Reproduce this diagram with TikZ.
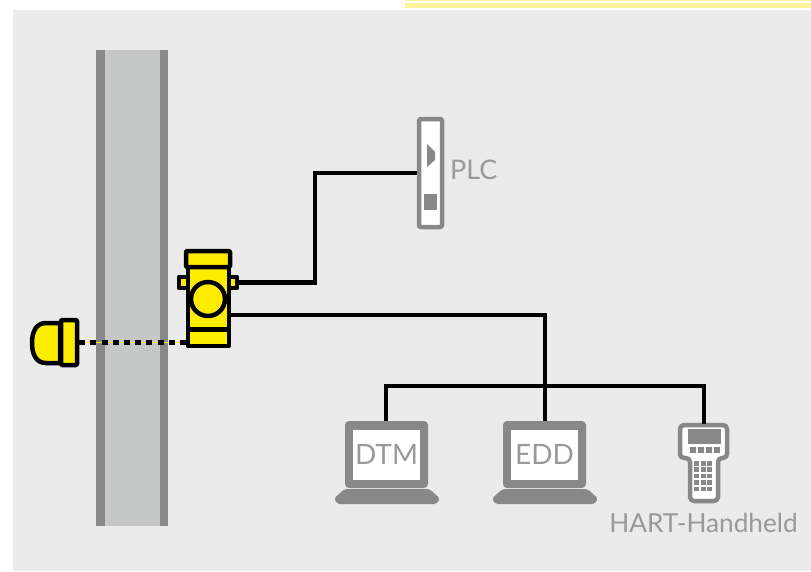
\documentclass[tikz,border=0pt]{standalone}
\usepackage{fontspec}
\setmainfont{Lato}
\definecolor{panelgray}{HTML}{EBEBEB}
\definecolor{pipegray}{HTML}{C6C7C7}
\definecolor{darkgray}{HTML}{888888}
\definecolor{labelgray}{HTML}{999999}
\definecolor{signal}{HTML}{FFED00}
\definecolor{paleyellow}{HTML}{FFF59D}
\tikzset{
  wire/.style={draw=black,line width=4.5pt},
  yellowpart/.style={draw=black,line width=4.5pt,fill=signal,line join=round,inner sep=0pt},
  devicepart/.style={draw=darkgray,line width=4.5pt,fill=white,line join=round,rounded corners=2pt},
  graypart/.style={fill=darkgray,draw=none},
  devicelabel/.style={text=labelgray,inner sep=0pt,font=\fontsize{27}{27}\selectfont}
}
\begin{document}
\begin{tikzpicture}[x=1pt,y=-1pt]
  \useasboundingbox (0,0) rectangle (811,571);
  \fill[paleyellow] (405,0) rectangle (811,1.2);
  \fill[paleyellow] (405,3) rectangle (811,8);
  \fill[panelgray] (13,10) rectangle (811,571);
  % pipe
  \fill[pipegray] (96,50) rectangle (168,526);
  \fill[darkgray] (96,50) rectangle (105,526);
  \fill[darkgray] (160,50) rectangle (168,526);
  % sensor
  \draw[yellowpart] (60,323) -- (46,323) .. controls (36,323) and (32,332) .. (32,343) .. controls (32,354) and (36,363) .. (46,363) -- (60,363) -- cycle;
  \node[yellowpart,rounded corners=1pt,minimum width=16pt,minimum height=45pt] (sensor) at (69,342.5) {};
  % transmitter
  \node[yellowpart,minimum width=9pt,minimum height=11pt] (lugl) at (183.5,282.5) {};
  \node[yellowpart,minimum width=8pt,minimum height=11pt] (lugr) at (233,282.5) {};
  \node[yellowpart,minimum width=41pt,minimum height=80pt] (xmtr) at (208.5,306) {};
  \node[yellowpart,rounded corners=1pt,minimum width=44pt,minimum height=16pt] (cap) at (208,259) {};
  \node[yellowpart,circle,minimum size=34pt] (gauge) at (208,299) {};
  \coordinate (collarl) at (188,329.5); \coordinate (collarr) at (229,329.5);
  \draw[wire] (collarl) -- (collarr);
  % PLC
  \node[devicepart,minimum width=23pt,minimum height=108pt,inner sep=0pt] (plc) at (430.5,173) {};
  \fill[graypart] (427,144) -- (435,152) -- (435,160) -- (427,167) -- cycle;
  \fill[graypart] (424,194) rectangle (436.5,210);
  \node[devicelabel,anchor=west] (plctext) at (450,170) {PLC};
  % laptops
  \foreach \name/\lx/\txt in {dtm/386.5/DTM,edd/544.5/EDD}{
    \fill[graypart,rounded corners=4pt] (\lx-41.5,421) rectangle (\lx+41.5,488);
    \node[fill=white,inner sep=0pt,minimum width=67pt,minimum height=50pt,text=labelgray,font=\fontsize{28}{28}\selectfont] (\name) at (\lx,454.5) {\txt};
    \fill[graypart,rounded corners=2pt] (\lx-42,489) -- (\lx+43,489) -- (\lx+53.5,498.5) -- (\lx+50,504) -- (\lx-49,504) -- (\lx-52.5,498.5) -- cycle;
  }
  \coordinate (dtmtop) at (386,421); \coordinate (eddtop) at (545,421);
  % handheld
  \draw[devicepart,rounded corners=4pt] (680,425) -- (727,425) -- (727,458) -- (718,458) -- (718,501) -- (690,501) -- (690,458) -- (680,458) -- cycle;
  \coordinate (hhtop) at (704,424);
  \fill[graypart] (688,429) rectangle (721,444);
  \foreach \i in {0,...,3} \fill[graypart] (690+8*\i,447) rectangle ++(6,6);
  \foreach \i in {0,1,2} \foreach \j in {0,...,4}
    \fill[graypart] (694.3+6.5*\i,461+6.4*\j) rectangle ++(5,4.5);
  \node[devicelabel,font=\fontsize{26.2}{26}\selectfont] (hhtext) at (703.5,523) {HART-Handheld};
  % connections
  \coordinate (plcbend) at (315,228);
  \coordinate (eddport) at (231,315);
  \coordinate (busjoin) at (545,386);
  \draw[wire,line join=miter] (lugr.east) -| (plcbend |- plc.west) -- (plc.west);
  \draw[wire] (eddport) -| (eddtop);
  \draw[wire] (dtmtop) |- (busjoin) -| (hhtop);
  \draw[signal,line width=0.7pt] (sensor.east) -- (xmtr.west |- sensor.east);
  \draw[black,line width=4.5pt,dash pattern=on 6pt off 5.2pt] (sensor.east) -- (xmtr.west |- sensor.east);
\end{tikzpicture}
\end{document}
